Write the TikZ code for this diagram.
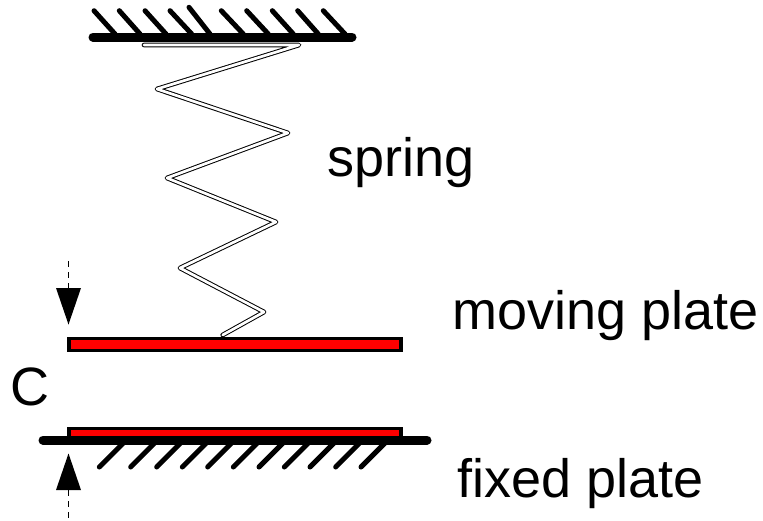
\documentclass[tikz,border=0pt]{standalone}
\usepackage{fontspec}
\setmainfont{Liberation Sans}
\tikzset{
  x=1pt,y=-1pt,
  ground/.style={line width=9pt,line cap=round},
  hatch/.style={line width=5pt,line cap=round},
  coil/.style={draw=black,line width=1pt,double=white,double distance=2.7pt,line join=round,line cap=round},
  plate/.style={draw=black,fill=red,line width=3.4pt,miter limit=10},
  label/.style={inner sep=0pt,anchor=base west,font=\fontsize{54}{60}\selectfont},
  guide/.style={line width=0.8pt,dash pattern=on 6pt off 5pt},
  head/.style={fill=black,draw=none}
}
\begin{document}
\begin{tikzpicture}
\useasboundingbox (0,0) rectangle (763,520);
% top support
\foreach \a/\b/\c in {94/10.7/115,119.3/10.7/140,145/10.7/166,170/10.7/191.7,189/7.3/210,221.3/10.7/243.3,246.7/10.7/268.3,272.3/10.7/293.3,297.7/10.7/318.3,323.3/10.7/345}
  \draw[hatch] (\a,\b) -- (\c,34);
\draw[ground] (93,37) -- (352,37);
% spring
\draw[coil] (144,45) -- (299,45) -- (157,89) -- (288,133) -- (167,178) -- (276,222) -- (180,268) -- (264,312) -- (222.7,335);
% moving plate
\draw[plate] (69,338.5) rectangle (401,350.5);
% fixed plate
\foreach \a in {99.3,130.7,156.7,182.3,207.7,233.3,259,284.3,310,335.7,361}
  \draw[hatch] (\a,467) -- (\a+24,443);
\draw[plate] (69,428.5) rectangle (401,440);
\draw[ground] (43,440) -- (427,440);
% gap arrows
\draw[guide] (68.5,261) -- (68.5,288);
\fill[head] (56,288) -- (81,288) -- (68.5,324.5) -- cycle;
\fill[head] (56,490) -- (81,490) -- (68.5,453.5) -- cycle;
\draw[guide] (68.5,490) -- (68.5,518);
% labels
\node[label] (spring) at (327.5,176) {spring};
\node[label] (moving) at (452.5,329) {moving plate};
\node[label] (fixed) at (457,497) {fixed plate};
\node[label] (gap) at (10.5,405) {C};
\end{tikzpicture}
\end{document}
